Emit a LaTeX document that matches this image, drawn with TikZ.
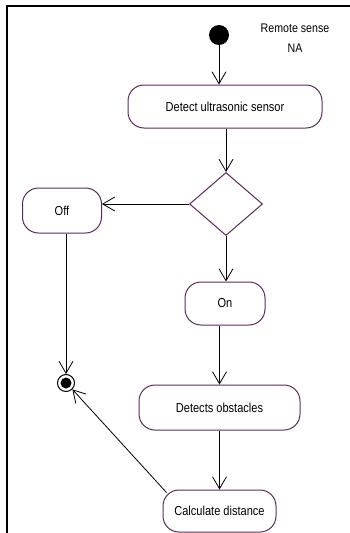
\documentclass[tikz,border=0pt]{standalone}
\usepackage{fontspec}
\setmainfont{Liberation Sans}[FakeStretch=0.85]
\usepackage{tikz}
\usetikzlibrary{arrows.meta,positioning,calc,shapes.geometric}
\definecolor{boxline}{RGB}{88,44,88}

\begin{document}
\begin{tikzpicture}[x=1pt,y=-1pt,
  actbox/.style={draw=boxline,line width=1pt,rounded corners=16pt,inner sep=0pt,font=\fontsize{13}{15}\selectfont},
  flow/.style={-{Straight Barb[length=12pt,width=14pt]},line width=0.8pt}]
  \useasboundingbox (0,0) rectangle (350,533);
  \draw[line width=2.5pt] (350,6)--(7,6)--(7,533);
  \node[circle,fill,inner sep=0pt,minimum size=20pt] (start) at (219,35) {};
  \node[align=center,font=\fontsize{12.5}{20}\selectfont] (sense) at (295,38) {Remote sense\\NA};
  \node[actbox,minimum width=194pt,minimum height=43pt] (detect) at (225,106.5) {Detect ultrasonic sensor};
  \node[diamond,draw=boxline,line width=1pt,inner sep=0pt,aspect=1.16,minimum width=73pt,minimum height=63pt] (choice) at (226,204) {};
  \node[actbox,minimum width=79pt,minimum height=45pt] (off) at (62,210.5) {Off};
  \node[actbox,minimum width=80pt,minimum height=43pt] (on) at (225,303.5) {On};
  \node[actbox,minimum width=161pt,minimum height=45pt] (obst) at (219.5,407.5) {Detects obstacles};
  \node[actbox,minimum width=113pt,minimum height=42pt] (calc) at (219.5,511) {Calculate distance};
  \node[circle,draw,line width=1pt,inner sep=0pt,minimum size=17pt] (stop) at (66,383) {};
  \fill (stop) circle (5.5pt);
  \draw[flow] (start) -- (start |- detect.north);
  \draw[flow] (choice.north |- detect.south) -- (choice.north);
  \draw[flow] (choice.west) -- (choice.west -| off.east);
  \draw[flow] (choice.south) -- (choice.south |- on.north);
  \draw[flow] (stop |- off.south) -- (stop.north);
  \draw[flow] (obst.north |- on.south) -- (obst.north);
  \draw[flow] (obst.south) -- (calc.north);
  \draw[flow] ($(calc.north west)+(4,3)$) -- (stop.south east);
\end{tikzpicture}
\end{document}
